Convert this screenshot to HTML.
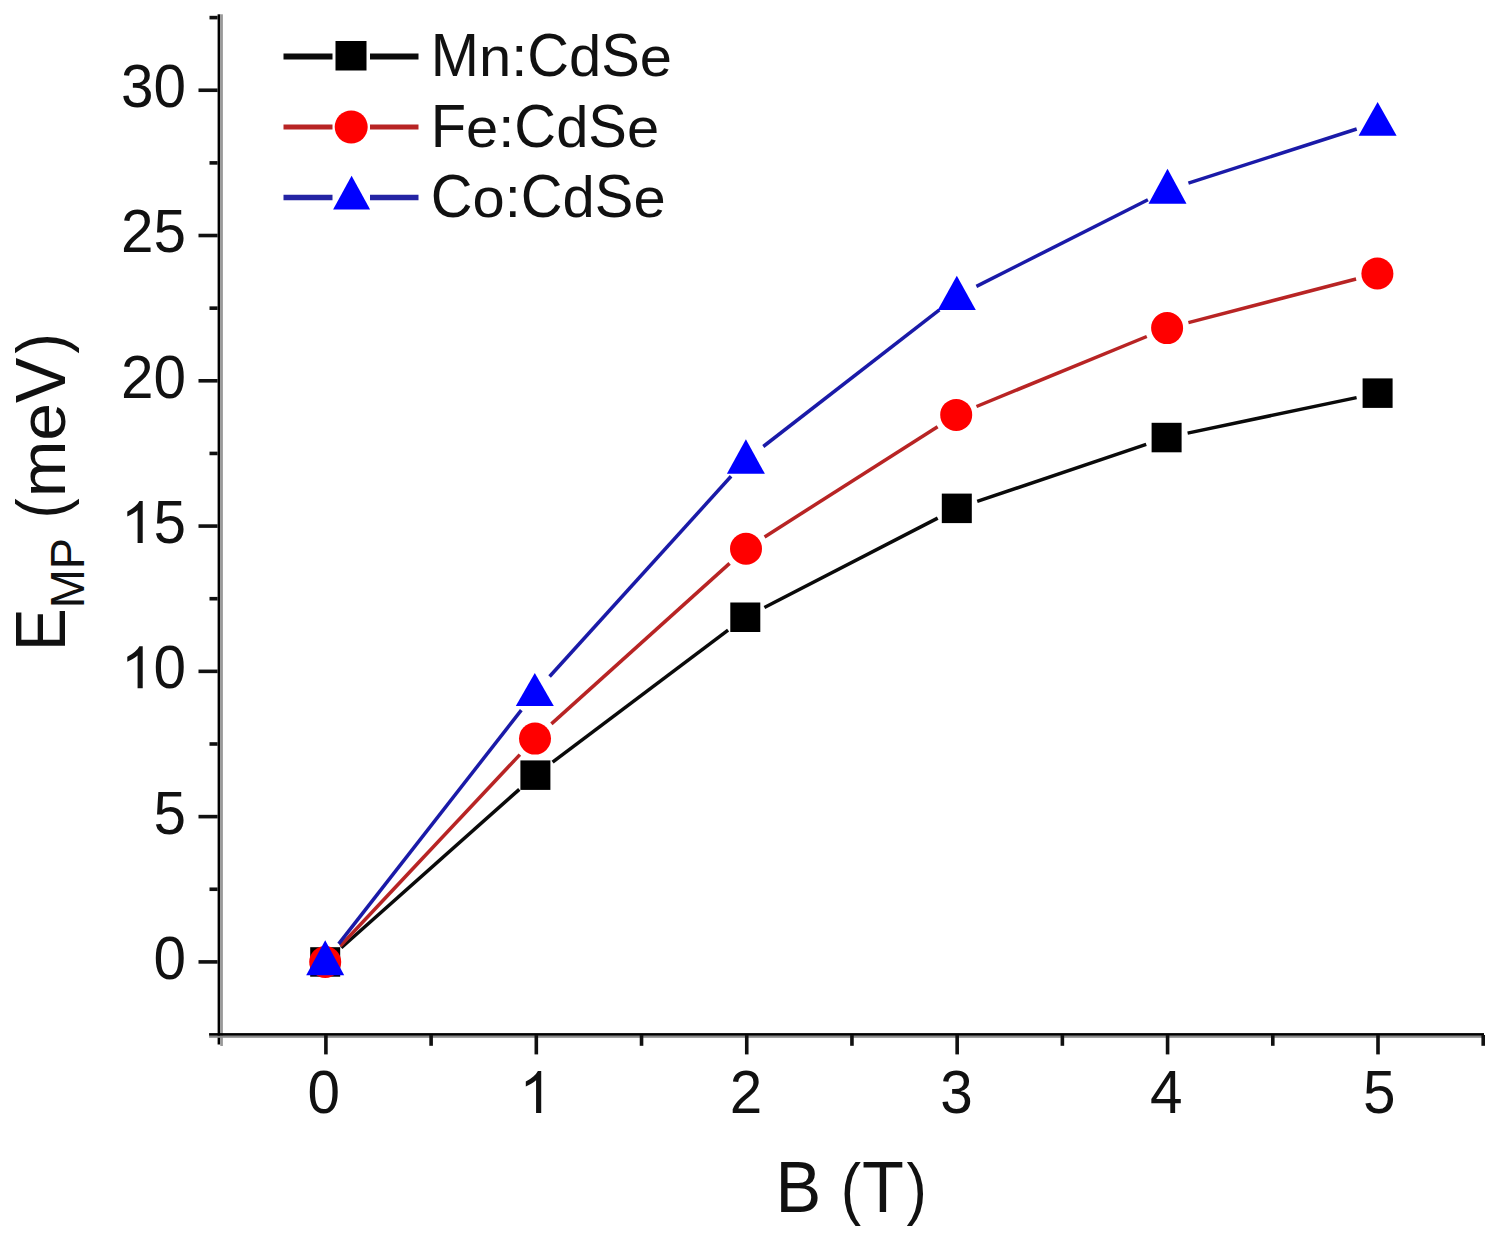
<!DOCTYPE html>
<html><head><meta charset="utf-8"><title>E_MP (meV) vs B (T)</title><style>
html,body{margin:0;padding:0;background:#fff;overflow:hidden;}
svg{display:block;}
text{font-family:"Liberation Sans",sans-serif;fill:#111;}
</style></head><body>
<svg width="1497" height="1241" viewBox="0 0 1497 1241">
<rect x="217.60" y="14.30" width="2.70" height="1030.20" fill="#000"/>
<rect x="220.30" y="14.30" width="2.60" height="1031.70" fill="#999"/>
<rect x="209.10" y="1033.10" width="1274.90" height="2.70" fill="#000"/>
<rect x="209.10" y="1035.80" width="1274.90" height="2.00" fill="#8c8c8c"/>
<rect x="198.50" y="960.10" width="19.10" height="3.60" fill="#111"/>
<rect x="198.50" y="814.83" width="19.10" height="3.60" fill="#111"/>
<rect x="198.50" y="669.55" width="19.10" height="3.60" fill="#111"/>
<rect x="198.50" y="524.28" width="19.10" height="3.60" fill="#111"/>
<rect x="198.50" y="379.00" width="19.10" height="3.60" fill="#111"/>
<rect x="198.50" y="233.72" width="19.10" height="3.60" fill="#111"/>
<rect x="198.50" y="88.45" width="19.10" height="3.60" fill="#111"/>
<rect x="209.50" y="887.46" width="8.10" height="3.60" fill="#111"/>
<rect x="209.50" y="742.19" width="8.10" height="3.60" fill="#111"/>
<rect x="209.50" y="596.91" width="8.10" height="3.60" fill="#111"/>
<rect x="209.50" y="451.64" width="8.10" height="3.60" fill="#111"/>
<rect x="209.50" y="306.36" width="8.10" height="3.60" fill="#111"/>
<rect x="209.50" y="161.09" width="8.10" height="3.60" fill="#111"/>
<rect x="209.50" y="15.81" width="8.10" height="3.60" fill="#111"/>
<rect x="324.10" y="1035.00" width="3.60" height="19.40" fill="#111"/>
<rect x="534.52" y="1035.00" width="3.60" height="19.40" fill="#111"/>
<rect x="744.94" y="1035.00" width="3.60" height="19.40" fill="#111"/>
<rect x="955.36" y="1035.00" width="3.60" height="19.40" fill="#111"/>
<rect x="1165.78" y="1035.00" width="3.60" height="19.40" fill="#111"/>
<rect x="1376.20" y="1035.00" width="3.60" height="19.40" fill="#111"/>
<rect x="429.31" y="1035.00" width="3.60" height="10.80" fill="#111"/>
<rect x="639.73" y="1035.00" width="3.60" height="10.80" fill="#111"/>
<rect x="850.15" y="1035.00" width="3.60" height="10.80" fill="#111"/>
<rect x="1060.57" y="1035.00" width="3.60" height="10.80" fill="#111"/>
<rect x="1270.99" y="1035.00" width="3.60" height="10.80" fill="#111"/>
<rect x="1481.41" y="1035.00" width="3.60" height="10.80" fill="#111"/>
<text transform="translate(153.47,978.80) scale(1.0000,1.0405)" style="font-size:58.5px">0</text>
<text transform="translate(153.47,833.52) scale(1.0000,1.0405)" style="font-size:58.5px">5</text>
<path d="M763 0H583V1147Q518 1085 412 1023Q307 961 223 930V1104Q374 1175 487 1276Q600 1377 647 1472H763Z" transform="translate(120.93,688.25) scale(0.02856,-0.02856)" fill="#111"/>
<text transform="translate(153.47,688.25) scale(1.0000,1.0405)" style="font-size:58.5px">0</text>
<path d="M763 0H583V1147Q518 1085 412 1023Q307 961 223 930V1104Q374 1175 487 1276Q600 1377 647 1472H763Z" transform="translate(120.93,542.98) scale(0.02856,-0.02856)" fill="#111"/>
<text transform="translate(153.47,542.98) scale(1.0000,1.0405)" style="font-size:58.5px">5</text>
<text transform="translate(120.93,397.70) scale(1.0000,1.0405)" style="font-size:58.5px">2</text>
<text transform="translate(153.47,397.70) scale(1.0000,1.0405)" style="font-size:58.5px">0</text>
<text transform="translate(120.93,252.42) scale(1.0000,1.0405)" style="font-size:58.5px">2</text>
<text transform="translate(153.47,252.42) scale(1.0000,1.0405)" style="font-size:58.5px">5</text>
<text transform="translate(120.93,107.15) scale(1.0000,1.0405)" style="font-size:58.5px">3</text>
<text transform="translate(153.47,107.15) scale(1.0000,1.0405)" style="font-size:58.5px">0</text>
<text transform="translate(307.53,1113.00) scale(1.0000,1.0405)" style="font-size:58.5px">0</text>
<path d="M763 0H583V1147Q518 1085 412 1023Q307 961 223 930V1104Q374 1175 487 1276Q600 1377 647 1472H763Z" transform="translate(519.43,1113.00) scale(0.02856,-0.02856)" fill="#111"/>
<text transform="translate(729.83,1113.00) scale(1.0000,1.0405)" style="font-size:58.5px">2</text>
<text transform="translate(940.33,1113.00) scale(1.0000,1.0405)" style="font-size:58.5px">3</text>
<text transform="translate(1149.93,1113.00) scale(1.0000,1.0405)" style="font-size:58.5px">4</text>
<text transform="translate(1363.03,1113.00) scale(1.0000,1.0405)" style="font-size:58.5px">5</text>
<text transform="translate(775.50,1212.30) scale(1.0000,1.0405)" style="font-size:68.6px">B</text>
<text transform="translate(840.80,1212.30) scale(0.8900,0.9940)" style="font-size:68.6px">(</text>
<text transform="translate(861.90,1212.30) scale(1.0000,1.0405)" style="font-size:68.6px">T</text>
<text transform="translate(906.60,1212.30) scale(0.8900,0.9940)" style="font-size:68.6px">)</text>
<g transform="translate(64.9,651.0) rotate(-90)">
<text transform="translate(0.00,0.00) scale(0.9400,1.0405)" style="font-size:68.0px">E</text>
<text transform="translate(42.70,18.80) scale(1.0000,1.0405)" style="font-size:47.0px">M</text>
<text transform="translate(81.85,18.80) scale(1.0000,1.0405)" style="font-size:47.0px">P</text>
<text transform="translate(132.60,0.00) scale(0.8900,0.9940)" style="font-size:68.0px">(</text>
<text transform="translate(153.65,0.00) scale(1.0000,0.9637)" style="font-size:68.0px">m</text>
<text transform="translate(210.29,0.00) scale(1.0000,0.9637)" style="font-size:68.0px">e</text>
<text transform="translate(248.11,0.00) scale(1.0000,1.0405)" style="font-size:68.0px">V</text>
<text transform="translate(297.40,0.00) scale(0.8900,0.9940)" style="font-size:68.0px">)</text>
</g>
<line x1="341.3" y1="947.7" x2="519.3" y2="789.4" stroke="#0a0a0a" stroke-width="3.5"/>
<line x1="552.6" y1="762.2" x2="728.1" y2="630.2" stroke="#0a0a0a" stroke-width="3.5"/>
<line x1="764.4" y1="607.5" x2="937.7" y2="518.1" stroke="#0a0a0a" stroke-width="3.5"/>
<line x1="977.2" y1="501.4" x2="1146.2" y2="444.4" stroke="#0a0a0a" stroke-width="3.5"/>
<line x1="1187.6" y1="433.1" x2="1356.6" y2="397.6" stroke="#0a0a0a" stroke-width="3.5"/>
<rect x="310.2" y="947.2" width="30" height="29.5" fill="#000"/>
<rect x="520.4" y="760.4" width="30" height="29.5" fill="#000"/>
<rect x="730.3" y="602.5" width="30" height="29.5" fill="#000"/>
<rect x="941.8" y="493.6" width="30" height="29.5" fill="#000"/>
<rect x="1151.6" y="422.8" width="30" height="29.5" fill="#000"/>
<rect x="1362.6" y="378.4" width="30" height="29.5" fill="#000"/>
<line x1="340.3" y1="946.0" x2="519.9" y2="754.6" stroke="#b82424" stroke-width="3.5"/>
<line x1="551.4" y1="723.9" x2="729.6" y2="563.4" stroke="#b82424" stroke-width="3.5"/>
<line x1="764.6" y1="536.9" x2="937.6" y2="426.7" stroke="#b82424" stroke-width="3.5"/>
<line x1="976.5" y1="406.5" x2="1146.8" y2="336.5" stroke="#b82424" stroke-width="3.5"/>
<line x1="1188.4" y1="322.6" x2="1356.1" y2="279.0" stroke="#b82424" stroke-width="3.5"/>
<circle cx="325.2" cy="962.0" r="16.0" fill="#f00"/>
<circle cx="535.0" cy="738.6" r="16.0" fill="#f00"/>
<circle cx="746.0" cy="548.7" r="16.0" fill="#f00"/>
<circle cx="956.2" cy="414.9" r="16.0" fill="#f00"/>
<circle cx="1167.1" cy="328.1" r="16.0" fill="#f00"/>
<circle cx="1377.4" cy="273.5" r="16.0" fill="#f00"/>
<line x1="338.7" y1="943.9" x2="521.3" y2="710.1" stroke="#1a1aa8" stroke-width="3.5"/>
<line x1="549.6" y1="676.5" x2="731.1" y2="476.3" stroke="#1a1aa8" stroke-width="3.5"/>
<line x1="763.3" y1="446.5" x2="939.4" y2="309.9" stroke="#1a1aa8" stroke-width="3.5"/>
<line x1="976.4" y1="286.4" x2="1147.9" y2="199.7" stroke="#1a1aa8" stroke-width="3.5"/>
<line x1="1188.4" y1="183.1" x2="1356.7" y2="129.0" stroke="#1a1aa8" stroke-width="3.5"/>
<polygon points="325.2,940.2 344.2,975.3 306.2,975.3" fill="#00f"/>
<polygon points="534.8,673.0 553.8,706.0 515.8,706.0" fill="#00f"/>
<polygon points="745.9,439.3 764.9,473.8 726.9,473.8" fill="#00f"/>
<polygon points="956.8,275.8 975.8,310.1 937.8,310.1" fill="#00f"/>
<polygon points="1167.5,168.8 1186.5,203.8 1148.5,203.8" fill="#00f"/>
<polygon points="1377.6,102.0 1396.6,135.7 1358.6,135.7" fill="#00f"/>
<line x1="283.5" y1="56.6" x2="332.5" y2="56.6" stroke="#0a0a0a" stroke-width="6"/>
<line x1="370.0" y1="56.6" x2="418.5" y2="56.6" stroke="#0a0a0a" stroke-width="6"/>
<rect x="335.5" y="41.0" width="31" height="29.5" fill="#000"/>
<text transform="translate(430.70,76.20) scale(1.0000,1.0405)" style="font-size:57.9px">M</text>
<text transform="translate(478.93,76.20) scale(1.0000,0.9637)" style="font-size:57.9px">n</text>
<text transform="translate(511.13,76.20)" style="font-size:57.9px">:</text>
<text transform="translate(527.22,76.20) scale(1.0000,1.0405)" style="font-size:57.9px">C</text>
<text transform="translate(569.03,76.20) scale(1.0000,0.9879)" style="font-size:57.9px">d</text>
<text transform="translate(601.23,76.20) scale(1.0000,1.0405)" style="font-size:57.9px">S</text>
<text transform="translate(639.85,76.20) scale(1.0000,0.9637)" style="font-size:57.9px">e</text>
<line x1="283.5" y1="127.0" x2="332.5" y2="127.0" stroke="#b82424" stroke-width="5"/>
<line x1="370.0" y1="127.0" x2="418.5" y2="127.0" stroke="#b82424" stroke-width="5"/>
<circle cx="351.2" cy="127.0" r="16.5" fill="#f00"/>
<text transform="translate(430.70,146.90) scale(1.0000,1.0405)" style="font-size:57.9px">F</text>
<text transform="translate(466.07,146.90) scale(1.0000,0.9637)" style="font-size:57.9px">e</text>
<text transform="translate(498.27,146.90)" style="font-size:57.9px">:</text>
<text transform="translate(514.36,146.90) scale(1.0000,1.0405)" style="font-size:57.9px">C</text>
<text transform="translate(556.17,146.90) scale(1.0000,0.9879)" style="font-size:57.9px">d</text>
<text transform="translate(588.37,146.90) scale(1.0000,1.0405)" style="font-size:57.9px">S</text>
<text transform="translate(626.99,146.90) scale(1.0000,0.9637)" style="font-size:57.9px">e</text>
<line x1="283.5" y1="197.6" x2="332.5" y2="197.6" stroke="#2424a4" stroke-width="5.5"/>
<line x1="370.0" y1="197.6" x2="418.5" y2="197.6" stroke="#2424a4" stroke-width="5.5"/>
<polygon points="351.6,175.7 370.1,209.4 333.1,209.4" fill="#00f"/>
<text transform="translate(430.70,216.90) scale(1.0000,1.0405)" style="font-size:57.9px">C</text>
<text transform="translate(472.51,216.90) scale(1.0000,0.9637)" style="font-size:57.9px">o</text>
<text transform="translate(504.71,216.90)" style="font-size:57.9px">:</text>
<text transform="translate(520.80,216.90) scale(1.0000,1.0405)" style="font-size:57.9px">C</text>
<text transform="translate(562.61,216.90) scale(1.0000,0.9879)" style="font-size:57.9px">d</text>
<text transform="translate(594.82,216.90) scale(1.0000,1.0405)" style="font-size:57.9px">S</text>
<text transform="translate(633.43,216.90) scale(1.0000,0.9637)" style="font-size:57.9px">e</text>
</svg>
</body></html>
